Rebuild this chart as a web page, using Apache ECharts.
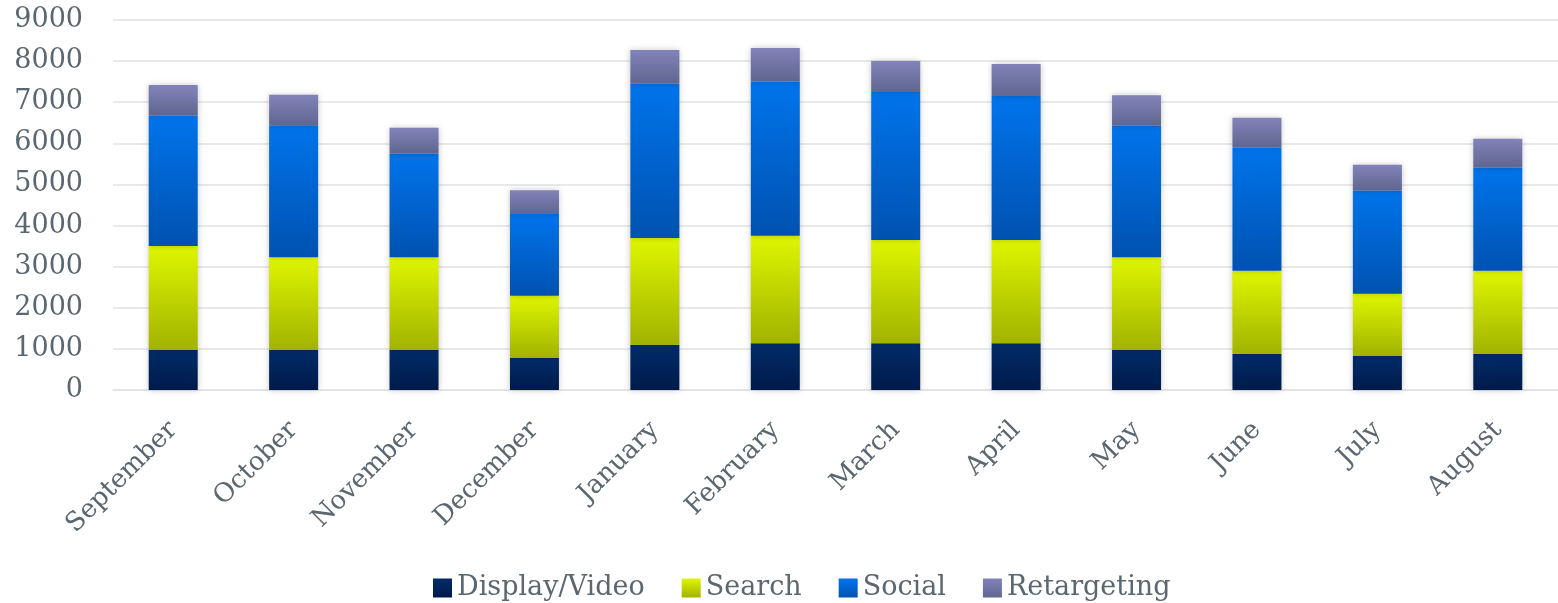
<!DOCTYPE html>
<html>
<head>
<meta charset="utf-8">
<style>
  html, body { margin: 0; padding: 0; background: #ffffff; }
  #chart { width: 1558px; height: 603px; }
</style>
<script src="https://cdn.jsdelivr.net/npm/echarts@6/dist/echarts.min.js"></script>
</head>
<body>
<div id="chart"></div>
<script>
// Monthly spend by channel, stacked
const months = ['September', 'October', 'November', 'December', 'January', 'February',
                'March', 'April', 'May', 'June', 'July', 'August'];
const displayVideo = [980, 980, 980, 780, 1100, 1140, 1140, 1140, 980, 880, 830, 880];
const search       = [2520, 2250, 2250, 1510, 2600, 2610, 2510, 2510, 2250, 2020, 1510, 2020];
const social       = [3180, 3210, 2520, 1990, 3750, 3750, 3600, 3500, 3200, 3000, 2510, 2510];
const retargeting  = [740, 740, 630, 580, 820, 820, 750, 780, 740, 720, 630, 700];
const yTicks = [0, 9000, 1000]; // min, max, step

const textColor = '#5a6771';
const serif = '"DejaVu Serif", "Liberation Serif", serif';

function grad(top, bottom) {
  return new echarts.graphic.LinearGradient(0, 0, 0, 1, [
    { offset: 0, color: top },
    { offset: 1, color: bottom }
  ]);
}

function barSeries(name, data, top, bottom) {
  return {
    name: name,
    type: 'bar',
    stack: 'total',
    barWidth: 49,
    data: data,
    itemStyle: {
      color: grad(top, bottom),
      shadowBlur: 6,
      shadowColor: 'rgba(0,0,0,0.22)'
    },
    emphasis: { disabled: true }
  };
}

const chart = echarts.init(document.getElementById('chart'), null, { renderer: 'canvas' });
chart.setOption({
  animation: false,
  backgroundColor: '#ffffff',
  grid: { left: 113, right: 0, top: 20, bottom: 213 },
  legend: {
    left: 433,
    top: 573,
    padding: 0,
    itemWidth: 19,
    itemHeight: 19,
    itemGap: 37,
    icon: 'rect',
    textStyle: { fontFamily: serif, fontSize: 27, lineHeight: 30, color: textColor },
    data: ['Display/Video', 'Search', 'Social', 'Retargeting']
  },
  xAxis: {
    type: 'category',
    data: months,
    axisLine: { lineStyle: { color: '#e2e2e2', width: 1.5 } },
    axisTick: { show: false },
    axisLabel: {
      rotate: 45,
      margin: 36,
      interval: 0,
      fontFamily: serif,
      fontSize: 26,
      color: textColor
    }
  },
  yAxis: {
    type: 'value',
    min: yTicks[0],
    max: yTicks[1],
    interval: yTicks[2],
    axisLine: { show: false },
    axisTick: { show: false },
    splitLine: { lineStyle: { color: '#e2e2e2', width: 1.5 } },
    axisLabel: {
      margin: 30,
      fontFamily: serif,
      fontSize: 27,
      color: textColor,
      formatter: (v) => String(v)
    }
  },
  series: [
    barSeries('Display/Video', displayVideo, '#012c69', '#001a4a'),
    barSeries('Search', search, '#def600', '#a1b300'),
    barSeries('Social', social, '#0074ec', '#0052b0'),
    barSeries('Retargeting', retargeting, '#8283b9', '#5f668f')
  ]
});
</script>
</body>
</html>
